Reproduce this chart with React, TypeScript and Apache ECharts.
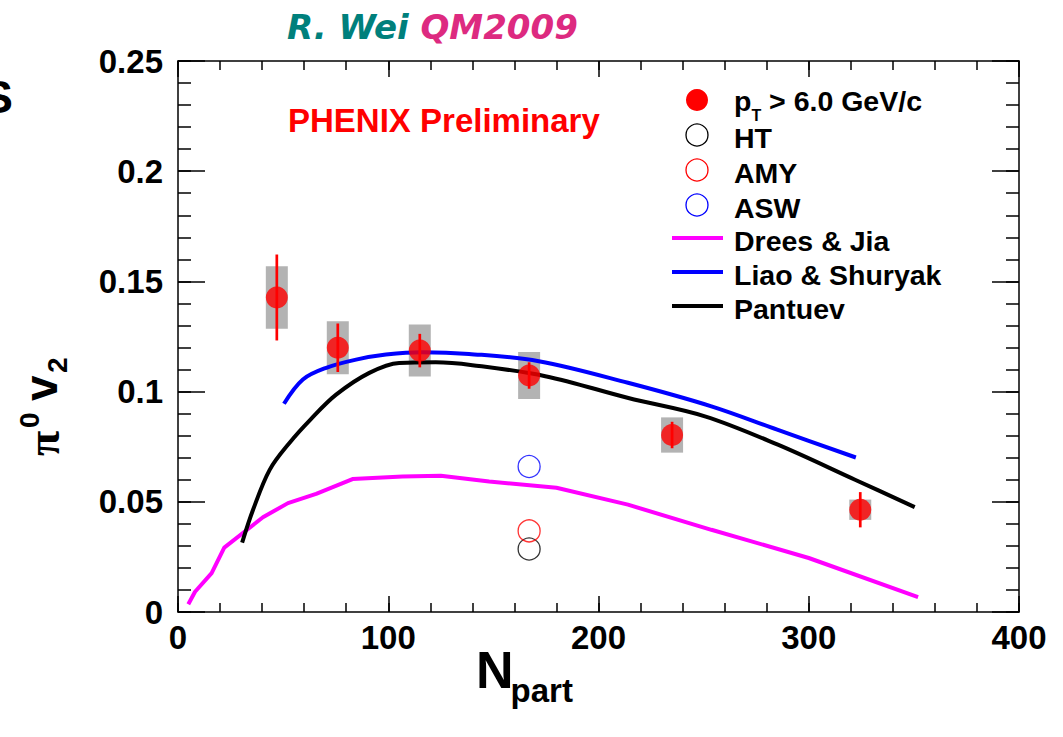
import React, { useEffect, useRef } from "react";
import * as echarts from "echarts";

// ---------- data ----------
const xTickValues = [0, 100, 200, 300, 400];
const yTickLabels = ["0", "0.05", "0.1", "0.15", "0.2", "0.25"];

// PHENIX pi0 v2, pT > 6 GeV/c
const npart = [47, 76, 115, 167, 235, 324.5];
const v2 = [0.1427, 0.1199, 0.1186, 0.1073, 0.0803, 0.0464];
const statErr = [0.0195, 0.011, 0.0076, 0.006, 0.006, 0.008];
const sysErr = [0.0142, 0.012, 0.0118, 0.0107, 0.008, 0.0046];

// model points at one centrality
const modelN = [167];
const htV2 = [0.0286];
const amyV2 = [0.0368];
const aswV2 = [0.066];

// model curves
const dreesN = [4.9, 8.1, 16, 22, 40.4, 52.3, 65.7, 83, 106.8, 125, 148, 180, 214, 253.7, 300, 352];
const dreesV2 = [0.0035, 0.0092, 0.0176, 0.0292, 0.043, 0.0494, 0.0536, 0.0603, 0.0615, 0.0618, 0.0592, 0.0564, 0.0487, 0.0373, 0.0245, 0.0068];

const liaoN = [50.4, 59.4, 70.5, 84.7, 98.9, 116.3, 138.4, 171.6, 214, 253.7, 285, 322.4];
const liaoV2 = [0.0945, 0.1055, 0.1108, 0.1145, 0.1168, 0.1179, 0.1171, 0.1138, 0.104, 0.0933, 0.0827, 0.0701];

const pantuevN = [30.5, 35.7, 43.6, 53, 63, 75.2, 91, 105.2, 122.6, 140, 174.7, 214.2, 250.6, 285.3, 322, 350.4];
const pantuevV2 = [0.0315, 0.0464, 0.0645, 0.0767, 0.0873, 0.0986, 0.1085, 0.113, 0.1133, 0.112, 0.107, 0.0971, 0.0888, 0.0759, 0.06, 0.0476];

const legendLabels = ["HT", "AMY", "ASW", "Drees & Jia", "Liao & Shuryak", "Pantuev"];

// ---------- styles ----------
const SANS = '"Liberation Sans", Arial, Helvetica, sans-serif';
const VERDANA = '"DejaVu Sans", Verdana, sans-serif';
const SERIF = '"Liberation Serif", "DejaVu Serif", serif';

const zip = (a: number[], b: number[]) => a.map((x, i) => [x, b[i]]);

let measureCtx: CanvasRenderingContext2D | null = null;
function tw(text: string, size: number, weight = "bold", family = SANS, style = "normal") {
  if (!measureCtx) measureCtx = document.createElement("canvas").getContext("2d");
  if (!measureCtx) return text.length * size * 0.55;
  measureCtx.font = `${style} ${weight} ${size}px ${family}`;
  return measureCtx.measureText(text).width;
}

function txt(x: number, y: number, text: string, size: number, fill: string, extra: any = {}) {
  return {
    type: "text",
    x,
    y,
    silent: true,
    style: {
      text,
      fill,
      fontSize: size,
      fontWeight: extra.weight ?? "bold",
      fontFamily: extra.family ?? SANS,
      fontStyle: extra.style ?? "normal",
      align: extra.align ?? "left",
      verticalAlign: "middle",
    },
  };
}

export default function App() {
  const ref = useRef<HTMLDivElement>(null);

  useEffect(() => {
    document.body.style.margin = "0";
    if (!ref.current) return;
    const chart = echarts.init(ref.current, null, { renderer: "svg" });

    const axisLineStyle = { color: "#000", width: 1.5 };
    const labelStyle = { color: "#000", fontSize: 33, fontWeight: "bold" as const, fontFamily: SANS };

    const xBase = {
      type: "value" as const,
      min: 0,
      max: 400,
      splitLine: { show: false },
      minorTick: { show: false },
    };
    const yBase = {
      type: "value" as const,
      min: 0,
      max: 0.25,
      splitLine: { show: false },
      minorTick: { show: false },
    };
    const majorX = (pos: string, labels: boolean) => ({
      ...xBase,
      position: pos,
      interval: 100,
      axisLine: { show: true, onZero: false, lineStyle: axisLineStyle },
      axisTick: { show: true, inside: true, length: 16, lineStyle: axisLineStyle },
      axisLabel: labels
        ? { ...labelStyle, margin: 9, formatter: (v: number) => (xTickValues.includes(v) ? String(v) : "") }
        : { show: false },
    });
    const minorX = (pos: string) => ({
      ...xBase,
      position: pos,
      interval: 20,
      axisLine: { show: false, onZero: false },
      axisTick: { show: true, inside: true, length: 9, lineStyle: axisLineStyle },
      axisLabel: { show: false },
    });
    const majorY = (pos: string, labels: boolean) => ({
      ...yBase,
      position: pos,
      interval: 0.05,
      axisLine: { show: true, onZero: false, lineStyle: axisLineStyle },
      axisTick: { show: true, inside: true, length: 27, lineStyle: axisLineStyle },
      axisLabel: labels
        ? { ...labelStyle, margin: 15, formatter: (v: number) => yTickLabels[Math.round(v / 0.05)] ?? "" }
        : { show: false },
    });
    const minorY = (pos: string) => ({
      ...yBase,
      position: pos,
      interval: 0.01,
      axisLine: { show: false, onZero: false },
      axisTick: { show: true, inside: true, length: 13, lineStyle: axisLineStyle },
      axisLabel: { show: false },
    });

    // legend graphics
    const rowsY = [100, 135, 170, 205, 238, 272, 306];
    const markerX = 697;
    const textX = 734;
    const g: any[] = [];
    g.push({ type: "circle", x: markerX, y: rowsY[0], shape: { cx: 0, cy: 0, r: 11 }, style: { fill: "#ff0000" }, silent: true });
    const openColors = ["#000000", "#ff0000", "#0000ff"];
    for (let i = 0; i < 3; i++) {
      g.push({
        type: "circle",
        x: markerX,
        y: rowsY[i + 1],
        shape: { cx: 0, cy: 0, r: 11 },
        style: { fill: "none", stroke: openColors[i], lineWidth: 1.3 },
        silent: true,
      });
    }
    const lineColors = ["#ff00ff", "#0000ff", "#000000"];
    for (let i = 0; i < 3; i++) {
      g.push({
        type: "line",
        shape: { x1: 672, y1: rowsY[i + 4], x2: 723, y2: rowsY[i + 4] },
        style: { stroke: lineColors[i], lineWidth: 4 },
        silent: true,
      });
    }
    // p_T > 6.0 GeV/c
    const LF = 28.5;
    const pW = tw("p", LF);
    const tW = tw("T", 16);
    g.push(txt(textX, rowsY[0] + 1, "p", LF, "#000"));
    g.push(txt(textX + pW, rowsY[0] + 15, "T", 16, "#000"));
    g.push(txt(textX + pW + tW, rowsY[0] + 1, " > 6.0 GeV/c", LF, "#000"));
    legendLabels.forEach((lab, i) => {
      g.push(txt(textX, rowsY[i + 1] + 3, lab, LF, "#000"));
    });

    // title
    const titleSize = 34;
    const rw = tw("R. Wei ", titleSize, "bold", VERDANA, "italic");
    g.push(txt(287, 27, "R. Wei", titleSize, "#00807c", { family: VERDANA, style: "italic" }));
    g.push(txt(287 + rw, 27, "QM2009", titleSize, "#dd2a80", { family: VERDANA, style: "italic" }));

    // PHENIX Preliminary
    g.push(txt(288, 120, "PHENIX Preliminary", 33, "#ff0000"));

    // y axis title (rotated, reads bottom to top)
    g.push({
      type: "group",
      x: 40,
      y: 397,
      rotation: Math.PI / 2,
      silent: true,
      children: [
        txt(-59, 3, "\u03c0", 46, "#000", { weight: "bold", family: SERIF }),
        txt(-31, -11, "0", 28, "#000"),
        txt(-4, 1, "v", 46, "#000"),
        txt(24, 17, "2", 28, "#000"),
      ],
    });

    // x axis title
    const nW = tw("N", 52);
    g.push(txt(476, 670, "N", 52, "#000"));
    g.push(txt(476 + nW - 3, 690, "part", 33, "#000"));

    // cut-off glyph at the left edge of the picture
    g.push(txt(13, 97, "S", 46, "#000", { align: "right" }));

    const option: any = {
      animation: false,
      backgroundColor: "#ffffff",
      grid: { left: 178, right: 44, top: 61, bottom: 125, containLabel: false },
      xAxis: [majorX("bottom", true), majorX("top", false), minorX("bottom"), minorX("top")],
      yAxis: [majorY("left", true), majorY("right", false), minorY("left"), minorY("right")],
      series: [
        {
          type: "custom",
          name: "sys",
          xAxisIndex: 0,
          yAxisIndex: 0,
          z: 1,
          silent: true,
          data: npart.map((n, i) => [n, v2[i], sysErr[i]]),
          renderItem: (_p: any, api: any) => {
            const n = api.value(0);
            const v = api.value(1);
            const s = api.value(2);
            const top = api.coord([n, v + s]);
            const bot = api.coord([n, v - s]);
            return {
              type: "rect",
              shape: { x: top[0] - 11, y: top[1], width: 22, height: bot[1] - top[1] },
              style: { fill: "#b3b3b3" },
            };
          },
        },
        {
          type: "line",
          name: "Drees & Jia",
          z: 2,
          data: zip(dreesN, dreesV2),
          showSymbol: false,
          symbol: "none",
          smooth: false,
          lineStyle: { color: "#ff00ff", width: 4 },
          silent: true,
        },
        {
          type: "line",
          name: "Liao & Shuryak",
          z: 2,
          data: zip(liaoN, liaoV2),
          showSymbol: false,
          symbol: "none",
          smooth: 0.35,
          lineStyle: { color: "#0000ff", width: 4 },
          silent: true,
        },
        {
          type: "line",
          name: "Pantuev",
          z: 2,
          data: zip(pantuevN, pantuevV2),
          showSymbol: false,
          symbol: "none",
          smooth: 0.35,
          lineStyle: { color: "#000000", width: 4 },
          silent: true,
        },
        {
          type: "custom",
          name: "stat",
          z: 3,
          silent: true,
          data: npart.map((n, i) => [n, v2[i], statErr[i]]),
          renderItem: (_p: any, api: any) => {
            const n = api.value(0);
            const v = api.value(1);
            const e = api.value(2);
            const top = api.coord([n, v + e]);
            const bot = api.coord([n, v - e]);
            return {
              type: "line",
              shape: { x1: top[0], y1: top[1], x2: bot[0], y2: bot[1] },
              style: { stroke: "#ff0000", lineWidth: 2.7 },
            };
          },
        },
        {
          type: "scatter",
          name: "pT > 6.0 GeV/c",
          z: 4,
          data: zip(npart, v2),
          symbol: "circle",
          symbolSize: 22,
          itemStyle: { color: "#ff0000" },
          silent: true,
        },
        {
          type: "scatter",
          name: "HT",
          z: 4,
          data: zip(modelN, htV2),
          symbolSize: 22,
          itemStyle: { color: "rgba(0,0,0,0)", borderColor: "#000000", borderWidth: 1.3 },
          silent: true,
        },
        {
          type: "scatter",
          name: "AMY",
          z: 4,
          data: zip(modelN, amyV2),
          symbolSize: 22,
          itemStyle: { color: "rgba(0,0,0,0)", borderColor: "#ff0000", borderWidth: 1.3 },
          silent: true,
        },
        {
          type: "scatter",
          name: "ASW",
          z: 4,
          data: zip(modelN, aswV2),
          symbolSize: 22,
          itemStyle: { color: "rgba(0,0,0,0)", borderColor: "#0000ff", borderWidth: 1.3 },
          silent: true,
        },
      ],
      graphic: g,
    };

    chart.setOption(option);
    return () => chart.dispose();
  }, []);

  return <div ref={ref} style={{ position: "absolute", left: 0, top: 0, width: 1063, height: 737 }} />;
}
